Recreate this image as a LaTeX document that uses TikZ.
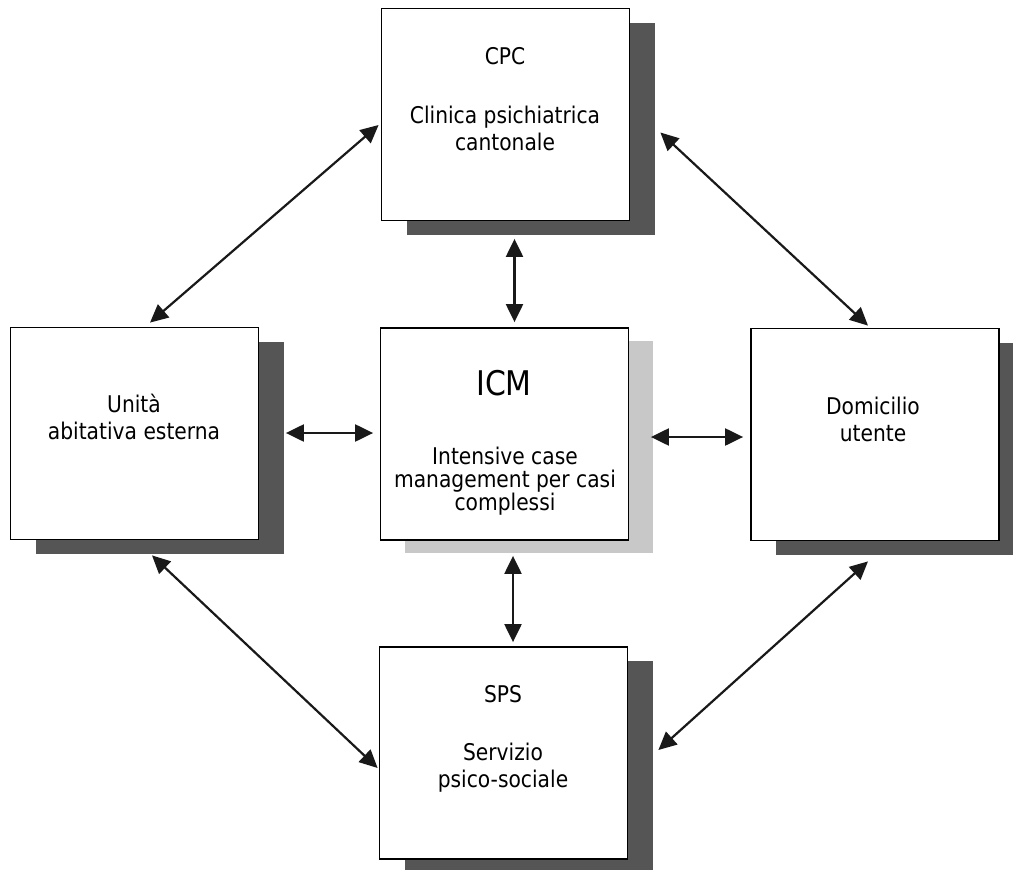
\documentclass[tikz,border=0pt]{standalone}
\usepackage{fontspec}
\setmainfont[FakeStretch=0.88]{DejaVu Sans}
\usetikzlibrary{arrows.meta,shadows,calc}

\definecolor{shadowdark}{HTML}{555555}
\definecolor{shadowlight}{HTML}{C8C8C8}

\begin{document}
\begin{tikzpicture}[x=1pt,y=-1pt,
  box/.style={draw=black, line width=1.8pt, fill=white,
    minimum width=248pt, minimum height=212pt, inner sep=0pt},
  darkshadow/.style={drop shadow={shadow xshift=25pt, shadow yshift=-14pt,
    fill=shadowdark, opacity=1}},
  lightshadow/.style={drop shadow={shadow xshift=24pt, shadow yshift=-13pt,
    fill=shadowlight, opacity=1}},
  lbl/.style={align=center, inner sep=0pt, anchor=base,
    font=\fontsize{23}{27}\selectfont},
  biglbl/.style={inner sep=0pt, anchor=base,
    font=\fontsize{34}{40}\selectfont},
  link/.style={line width=2.2pt, draw=black!90,
    {Triangle[length=18pt,width=17pt]}-{Triangle[length=18pt,width=17pt]}}
]
\useasboundingbox (0,0) rectangle (1013,870);
\fill[white] (0,0) rectangle (1013,870);

% the five services
\node[box, darkshadow]  (cpc) at (505.5,114.5) {};
\node[box, darkshadow]  (ume) at (134.5,433.5) {};
\node[box, lightshadow] (icm) at (504.5,434)   {};
\node[box, darkshadow]  (dom) at (875,434.5)   {};
\node[box, darkshadow]  (sps) at (503.5,753)   {};

% labels (a multi-line label sits on the baseline of its last line)
\node[lbl] (cpcT)  at (505,64)  {CPC};
\node[lbl] (cpcD)  at (505,150) {Clinica psichiatrica\\cantonale};
\node[biglbl] (icmT) at (504,395) {ICM};
\node[lbl, font=\fontsize{23}{23}\selectfont] (icmD) at (505,510)
  {Intensive case\\management per casi\\complessi};
\node[lbl] (umeD)  at (134,439) {Unità\\abitativa esterna};
\node[lbl] (domD)  at (873,441) {Domicilio\\utente};
\node[lbl] (spsT)  at (503,702) {SPS};
\node[lbl] (spsD)  at (503,787) {Servizio\\psico-sociale};

% connectors
\draw[link] ($(cpc.west)+(-2,10.5)$) -- ($(ume.north)+(15.5,-4)$);
\draw[link] ($(cpc.east)+(30,18)$)   -- ($(dom.north)+(-7,-2)$);
\draw[link] ($(cpc.south)+(9,17.5)$) -- ($(icm.north)+(10,-5)$);
\draw[link] ($(ume.east)+(26.5,-0.5)$) -- ($(icm.west)+(-6.5,-1)$);
\draw[link] ($(icm.east)+(21.5,3)$)  -- ($(dom.west)+(-7,2.5)$);
\draw[link] ($(icm.south)+(8.5,15)$) -- ($(sps.north)+(9.5,-4)$);
\draw[link] ($(ume.south)+(17.5,15)$) -- ($(sps.west)+(-1,15)$);
\draw[link] ($(dom.south)+(-7,20)$)  -- ($(sps.east)+(30,-3)$);
\end{tikzpicture}
\end{document}
